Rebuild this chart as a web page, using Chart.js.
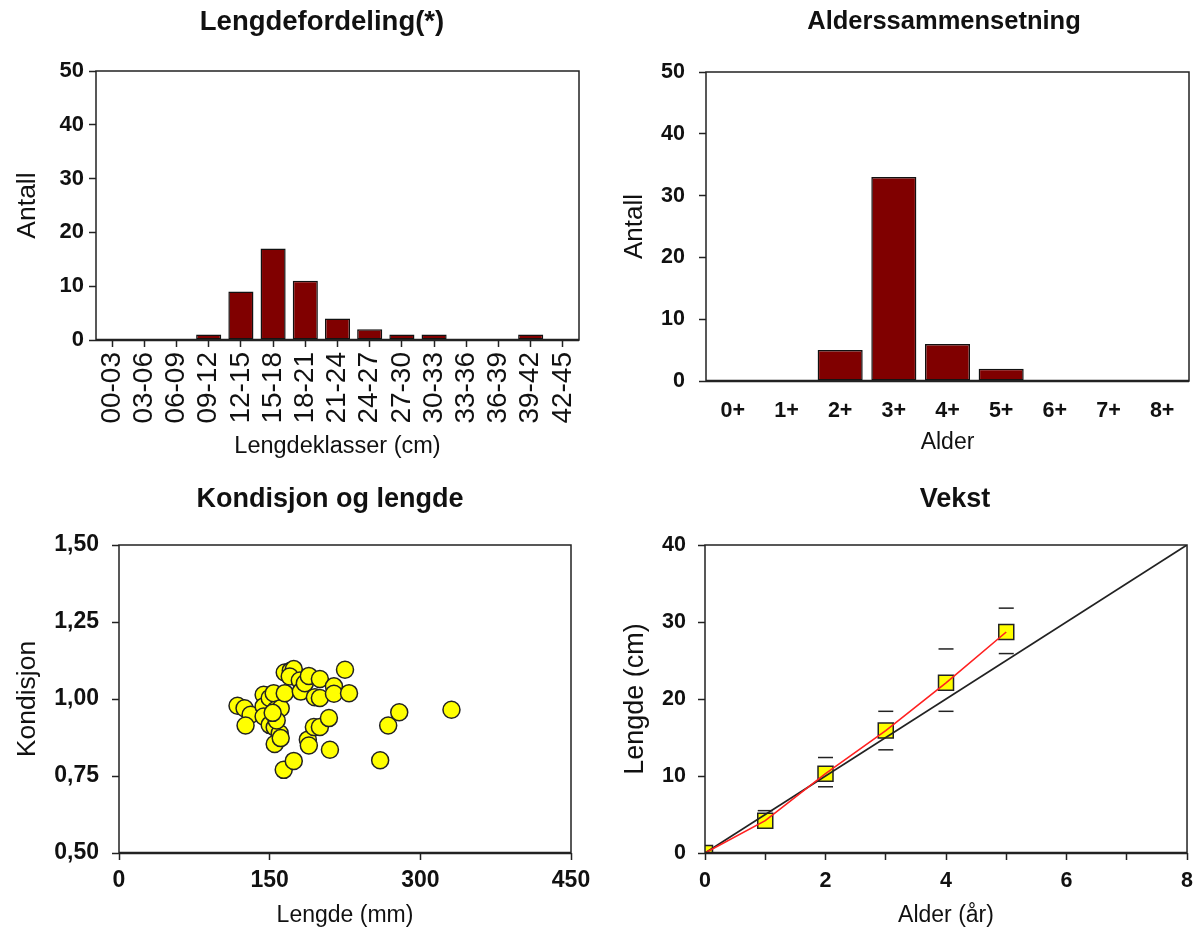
<!DOCTYPE html>
<html>
<head>
<meta charset="utf-8">
<script src="https://cdn.jsdelivr.net/npm/chart.js@4/dist/chart.umd.min.js"></script>
<style>
  html, body { margin: 0; padding: 0; background: #fff; }
  #wrap { position: relative; width: 1201px; height: 931px; overflow: hidden; }
  canvas { position: absolute; }
</style>
</head>
<body>
<div id="wrap">
  <canvas id="c1" width="600" height="470" style="left:0;top:0"></canvas>
  <canvas id="c2" width="601" height="470" style="left:600px;top:0"></canvas>
  <canvas id="c3" width="600" height="461" style="left:0;top:470px"></canvas>
  <canvas id="c4" width="601" height="461" style="left:600px;top:470px"></canvas>
</div>
<script>
// Length distribution (count per 3 cm class)
const lengthClasses = ['00-03','03-06','06-09','09-12','12-15','15-18','18-21','21-24','24-27','27-30','30-33','33-36','36-39','39-42','42-45'];
const lengthCounts  = [0, 0, 0, 1, 9, 17, 11, 4, 2, 1, 1, 0, 0, 1, 0];

// Age composition
const ageClasses = ['0+','1+','2+','3+','4+','5+','6+','7+','8+'];
const ageCounts  = [0, 0, 5, 33, 6, 2, 0, 0, 0];

// Condition factor against length (mm)
const fishLength = [118, 125, 131, 126, 144, 144, 144, 150, 154, 150, 156, 161, 155, 160, 155, 161, 165, 165, 171, 174, 170, 164, 174, 180, 181, 185, 189, 200, 195, 200, 188, 189, 194, 200, 209, 210, 214, 214, 225, 229, 260, 268, 279, 331, 157, 153];
const fishCond   = [0.978, 0.970, 0.949, 0.914, 1.014, 0.976, 0.943, 1.003, 1.019, 0.916, 0.965, 0.970, 0.908, 0.889, 0.854, 0.873, 1.019, 1.086, 1.092, 1.097, 1.073, 0.770, 0.799, 1.060, 1.024, 1.051, 1.075, 1.065, 1.006, 1.003, 0.868, 0.849, 0.909, 0.909, 0.938, 0.835, 1.041, 1.017, 1.095, 1.019, 0.801, 0.914, 0.957, 0.965, 0.930, 0.955];

// Growth: mean length per age with spread, and reference line
const growthAge   = [0, 1, 2, 3, 4, 5];
const growthMean  = [0, 4.2, 10.3, 15.9, 22.1, 28.7];
const spreadAge   = [1, 2, 3, 4, 5];
const spreadHigh  = [5.5, 12.4, 18.4, 26.5, 31.8];
const spreadLow   = [3.4, 8.6, 13.4, 18.4, 25.9];
const refAge      = [0, 8];
const refLength   = [0, 40];

Chart.defaults.font.family = "'Liberation Sans', Arial, sans-serif";
Chart.defaults.color = '#111';
Chart.defaults.animation = false;

const INK = '#222';

// Box around the plot area, with a heavier base line
const framePlugin = {
  id: 'frame',
  afterDatasetsDraw(chart) {
    const { ctx, chartArea: a } = chart;
    ctx.save();
    ctx.strokeStyle = INK;
    ctx.lineWidth = 1.5;
    ctx.strokeRect(a.left, a.top, a.right - a.left, a.bottom - a.top);
    ctx.lineWidth = 2.5;
    ctx.beginPath();
    ctx.moveTo(a.left, a.bottom);
    ctx.lineTo(a.right, a.bottom);
    ctx.stroke();
    ctx.restore();
  }
};

// Panel heading drawn at a fixed spot
const headingPlugin = {
  id: 'heading',
  afterDraw(chart, args, opts) {
    const ctx = chart.ctx;
    ctx.save();
    ctx.font = 'bold ' + opts.size + "px 'Liberation Sans', Arial, sans-serif";
    ctx.fillStyle = '#111';
    ctx.textAlign = 'center';
    ctx.textBaseline = 'middle';
    ctx.fillText(opts.text, opts.x, opts.y);
    ctx.restore();
  }
};

Chart.register(framePlugin, headingPlugin);

const titleFont = { size: 23 };
const bold = size => ({ size, weight: 'bold' });

function fixWidth(w) { return s => { s.width = w; }; }
function fixHeight(h) { return s => { s.height = h; }; }

function yAxis(opts) {
  return Object.assign({
    border: { display: false },
    grid: { drawOnChartArea: false, drawTicks: true, tickLength: 7, tickColor: INK, tickWidth: 1.5 },
  }, opts);
}

// 1. Lengdefordeling
new Chart(document.getElementById('c1'), {
  type: 'bar',
  data: {
    labels: lengthClasses,
    datasets: [{
      data: lengthCounts,
      backgroundColor: '#800000',
      borderColor: '#111',
      borderWidth: 1.5,
      borderSkipped: false,
      barPercentage: 0.78,
      categoryPercentage: 1.0
    }]
  },
  options: {
    responsive: false,
    layout: { padding: { left: 0, right: 21, top: 71, bottom: 0 } },
    plugins: {
      legend: { display: false }, tooltip: { enabled: false },
      heading: { text: 'Lengdefordeling(*)', x: 322, y: 22, size: 27.5 }
    },
    scales: {
      x: {
        border: { display: false },
        grid: { offset: false, drawOnChartArea: false, drawTicks: true, tickLength: 7, tickColor: INK, tickWidth: 1.5 },
        ticks: { autoSkip: false, minRotation: 90, maxRotation: 90, padding: 5, font: { size: 28, lineHeight: 1 }, color: '#111' },
        title: { display: true, text: 'Lengdeklasser (cm)', font: { size: 23.5 }, padding: { top: 0, bottom: 9 } },
        afterFit: fixHeight(130)
      },
      y: yAxis({
        min: 0, max: 50,
        ticks: { stepSize: 10, font: bold(22), color: '#111', padding: 5 },
        title: { display: true, text: 'Antall', font: { size: 26.5 }, padding: { top: 12, bottom: 0 } },
        afterFit: fixWidth(96)
      })
    }
  }
});

// 2. Alderssammensetning
new Chart(document.getElementById('c2'), {
  type: 'bar',
  data: {
    labels: ageClasses,
    datasets: [{
      data: ageCounts,
      backgroundColor: '#800000',
      borderColor: '#111',
      borderWidth: 1.5,
      borderSkipped: false,
      barPercentage: 0.84,
      categoryPercentage: 1.0
    }]
  },
  options: {
    responsive: false,
    layout: { padding: { left: 0, right: 12, top: 72, bottom: 0 } },
    plugins: {
      legend: { display: false }, tooltip: { enabled: false },
      heading: { text: 'Alderssammensetning', x: 344, y: 22, size: 25.5 }
    },
    scales: {
      x: {
        border: { display: false },
        grid: { display: false, drawTicks: false },
        ticks: { padding: 17, font: bold(21.5), color: '#111' },
        title: { display: true, text: 'Alder', font: titleFont, padding: { top: 0, bottom: 14 } },
        afterFit: fixHeight(89)
      },
      y: yAxis({
        min: 0, max: 50,
        ticks: { stepSize: 10, font: bold(21.5), color: '#111', padding: 14 },
        title: { display: true, text: 'Antall', font: { size: 26 }, padding: { top: 19, bottom: 0 } },
        afterFit: fixWidth(106)
      })
    }
  }
});

const commaTick = v => v.toFixed(2).replace('.', ',');

// 3. Kondisjon og lengde
new Chart(document.getElementById('c3'), {
  type: 'scatter',
  data: {
    datasets: [{
      data: fishLength.map((x, i) => ({ x, y: fishCond[i] })),
      pointRadius: 8.5,
      pointBackgroundColor: '#ffff00',
      pointBorderColor: '#222',
      pointBorderWidth: 1.5
    }]
  },
  options: {
    responsive: false,
    layout: { padding: { left: 0, right: 29, top: 75, bottom: 0 } },
    plugins: {
      legend: { display: false }, tooltip: { enabled: false },
      heading: { text: 'Kondisjon og lengde', x: 330, y: 30, size: 27 }
    },
    scales: {
      x: {
        type: 'linear', min: 0, max: 450,
        border: { display: false },
        grid: { drawOnChartArea: false, drawTicks: true, tickLength: 7, tickColor: INK, tickWidth: 1.5 },
        ticks: { stepSize: 150, padding: 7, font: bold(23), color: '#111' },
        title: { display: true, text: 'Lengde (mm)', font: titleFont, padding: { top: 0, bottom: 2 } },
        afterFit: fixHeight(78)
      },
      y: yAxis({
        min: 0.5, max: 1.5,
        ticks: { stepSize: 0.25, font: bold(23), color: '#111', padding: 13, callback: commaTick },
        title: { display: true, text: 'Kondisjon', font: { size: 26.5 }, padding: { top: 12, bottom: 0 } },
        afterFit: fixWidth(119)
      })
    }
  }
});

// 4. Vekst
new Chart(document.getElementById('c4'), {
  type: 'scatter',
  data: {
    datasets: [
      {
        data: growthAge.map((x, i) => ({ x, y: growthMean[i] })),
        showLine: true,
        borderColor: '#ff2020',
        borderWidth: 1.6,
        pointRadius: 0,
        order: 0
      },
      {
        data: refAge.map((x, i) => ({ x, y: refLength[i] })),
        showLine: true,
        borderColor: '#222',
        borderWidth: 1.8,
        pointRadius: 0,
        order: 1
      },
      {
        data: growthAge.map((x, i) => ({ x, y: growthMean[i] })),
        pointStyle: 'rect',
        pointRadius: 10.6,
        pointBackgroundColor: '#ffff00',
        pointBorderColor: '#222',
        pointBorderWidth: 1.5,
        clip: 0,
        order: 2
      },
      {
        data: spreadAge.map((x, i) => ({ x, y: spreadHigh[i] }))
          .concat(spreadAge.map((x, i) => ({ x, y: spreadLow[i] }))),
        pointStyle: 'line',
        pointRadius: 7.5,
        pointBorderColor: '#222',
        pointBorderWidth: 1.5,
        order: 3
      }
    ]
  },
  options: {
    responsive: false,
    layout: { padding: { left: 0, right: 7, top: 75, bottom: 0 } },
    plugins: {
      legend: { display: false }, tooltip: { enabled: false },
      heading: { text: 'Vekst', x: 355, y: 30, size: 27 }
    },
    scales: {
      x: {
        type: 'linear', min: 0, max: 8,
        border: { display: false },
        grid: { drawOnChartArea: false, drawTicks: true, tickLength: 7, tickColor: INK, tickWidth: 1.5 },
        ticks: { stepSize: 1, padding: 8, font: bold(21.5), color: '#111', callback: v => (v % 2 === 0 ? String(v) : '') },
        title: { display: true, text: 'Alder (år)', font: titleFont, padding: { top: 0, bottom: 2 } },
        afterFit: fixHeight(78)
      },
      y: yAxis({
        min: 0, max: 40,
        ticks: { stepSize: 10, font: bold(21.5), color: '#111', padding: 12 },
        title: { display: true, text: 'Lengde (cm)', font: { size: 27 }, padding: { top: 19, bottom: 0 } },
        afterFit: fixWidth(105)
      })
    }
  }
});
</script>
</body>
</html>
